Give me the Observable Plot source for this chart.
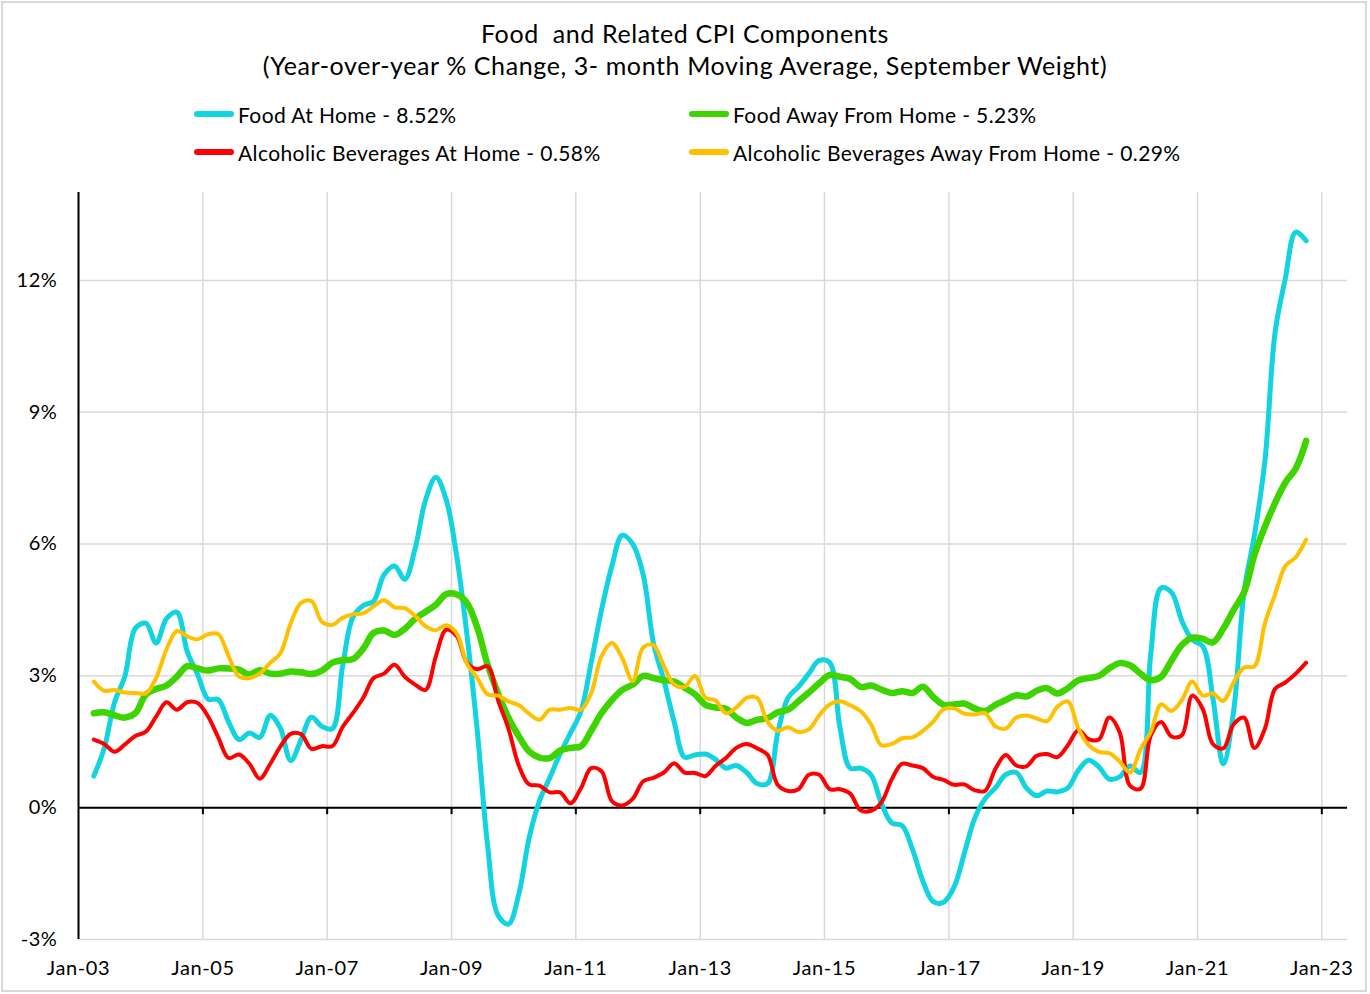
<!DOCTYPE html>
<html><head><meta charset="utf-8">
<script src="https://cdn.jsdelivr.net/npm/d3@7"></script>
<script src="https://cdn.jsdelivr.net/npm/@observablehq/plot@0.6"></script>
<style>
body{margin:0;background:#fff;font-family:Lato,"Open Sans",sans-serif;color:#000}
#wrap{position:relative;width:1370px;height:994px;overflow:hidden}
#frame{position:absolute;left:1px;top:1px;width:1366px;height:991px;border:2px solid #d9d9d9;box-sizing:border-box;pointer-events:none}
#title{position:absolute;top:17px;left:0;width:1370px;text-align:center;font-size:25px;line-height:32px;letter-spacing:0.6px}
.leg{position:absolute;height:30px;font-size:21px;letter-spacing:0.4px;display:flex;align-items:center;white-space:nowrap}
.leg svg{margin-right:3px}
#chart{position:absolute;left:0;top:0}
#chart svg text{letter-spacing:0.6px}
</style></head>
<body>
<div id="wrap">
  <div id="chart"></div>
  <div id="title">Food&nbsp; and Related CPI Components<br>(Year-over-year % Change, 3- month Moving Average, September Weight)</div>
  <div id="legend"></div>
  <div id="frame"></div>
</div>
<script>
// Bi-monthly observations, Apr 2003 .. Oct 2022 (Feb/Apr/Jun/Aug/Oct/Dec)
const foodAtHome = [
  0.72, 1.35, 2.4, 3.0, 4.08,
  4.2, 3.75, 4.3, 4.45, 3.55, 3.03,
  2.47, 2.46, 1.95, 1.55, 1.70, 1.60,
  2.1, 1.81, 1.07, 1.55, 2.06, 1.85,
  1.8, 3.2, 4.33, 4.6, 4.7, 5.3,
  5.5, 5.2, 5.9, 7.0, 7.52, 7.0,
  5.7, 3.95, 1.75, -0.87, -2.45, -2.65,
  -1.95, -0.7, 0.15, 0.68, 1.23, 1.7,
  2.2, 3.3, 4.5, 5.5, 6.2, 6.0,
  5.3, 3.75, 2.9, 1.95, 1.15, 1.2,
  1.22, 1.1, 0.9, 0.96, 0.8, 0.55,
  0.55, 1.7, 2.5, 2.75, 3.05, 3.35,
  3.3, 1.85, 0.9, 0.9, 0.75, 0.1,
  -0.35, -0.41, -0.95, -1.67, -2.14, -2.15,
  -1.8, -1.05, -0.25, 0.2, 0.45, 0.75,
  0.8, 0.45, 0.27, 0.38, 0.36, 0.45,
  0.85, 1.08, 0.93, 0.65, 0.7, 0.95,
  0.8, 3.5, 5.0, 4.9, 4.25, 3.82,
  3.67, 2.5, 1.0, 2.2, 4.9, 6.2,
  7.9, 10.8, 12.05, 13.1, 12.9
];
const foodAwayFromHome = [
  2.15, 2.17, 2.1, 2.05, 2.15,
  2.58, 2.7, 2.78, 2.98, 3.22, 3.17,
  3.12, 3.17, 3.17, 3.14, 3.03, 3.13,
  3.05, 3.05, 3.1, 3.08, 3.04, 3.12,
  3.3, 3.36, 3.38, 3.62, 3.98, 4.03,
  3.93, 4.07, 4.3, 4.46, 4.62, 4.86,
  4.85, 4.66, 4.1, 3.25, 2.6, 2.05,
  1.62, 1.28, 1.14, 1.13, 1.3, 1.36,
  1.4, 1.75, 2.15, 2.45, 2.68, 2.8,
  3.0, 2.95, 2.9, 2.87, 2.73, 2.58,
  2.34, 2.28, 2.25, 2.05, 1.93, 2.0,
  2.04, 2.17, 2.23, 2.42, 2.62, 2.83,
  3.02, 2.98, 2.93, 2.75, 2.78, 2.69,
  2.61, 2.65, 2.61, 2.75, 2.52, 2.34,
  2.35, 2.37, 2.26, 2.2, 2.34, 2.45,
  2.56, 2.53, 2.66, 2.72, 2.6, 2.72,
  2.9, 2.95, 3.0, 3.17, 3.29, 3.24,
  3.05, 2.9, 2.98, 3.35, 3.7, 3.87,
  3.84, 3.76, 4.07, 4.5, 4.9, 5.75,
  6.4, 6.93, 7.4, 7.72, 8.35
];
const alcoholAtHome = [
  1.55, 1.45, 1.27, 1.44, 1.63,
  1.73, 2.07, 2.4, 2.23, 2.4, 2.38,
  2.07, 1.6, 1.13, 1.21, 1.0, 0.66,
  1.0, 1.39, 1.68, 1.67, 1.34, 1.4,
  1.4, 1.83, 2.15, 2.5, 2.95, 3.05,
  3.25, 2.98, 2.8, 2.68, 3.45, 4.05,
  3.9, 3.3, 3.15, 3.22, 2.45, 1.8,
  0.95, 0.53, 0.5, 0.35, 0.35, 0.1,
  0.45, 0.9, 0.83, 0.15, 0.05, 0.2,
  0.6, 0.68, 0.8, 1.01, 0.8, 0.79,
  0.72, 0.95, 1.13, 1.36, 1.45, 1.35,
  1.2, 0.52, 0.38, 0.42, 0.75, 0.75,
  0.42, 0.42, 0.32, -0.06, -0.07, 0.12,
  0.65, 1.0, 0.96, 0.9, 0.7, 0.63,
  0.52, 0.53, 0.4, 0.38, 0.88, 1.2,
  0.96, 0.94, 1.18, 1.22, 1.15, 1.42,
  1.76, 1.56, 1.55, 2.05, 1.72, 0.5,
  0.43, 1.64, 1.95, 1.62, 1.65, 2.55,
  2.24, 1.45, 1.35, 1.9, 2.05, 1.36,
  1.8, 2.7, 2.85, 3.05, 3.3
];
const alcoholAwayFromHome = [
  2.87, 2.66, 2.68, 2.62, 2.61,
  2.6, 2.95, 3.6, 4.02, 3.9, 3.83,
  3.95, 3.95, 3.45, 2.98, 2.95, 3.05,
  3.3, 3.51, 4.2, 4.66, 4.7, 4.23,
  4.16, 4.32, 4.4, 4.42, 4.58, 4.72,
  4.56, 4.54, 4.36, 4.13, 4.04, 4.15,
  3.96, 3.28, 2.95, 2.58, 2.55, 2.42,
  2.33, 2.14, 2.0, 2.23, 2.23, 2.27,
  2.23, 2.6, 3.45, 3.75, 3.4, 2.88,
  3.65, 3.7, 3.23, 2.8, 2.75, 3.0,
  2.5, 2.44, 2.15, 2.28, 2.5, 2.5,
  1.95, 1.75, 1.83, 1.72, 1.78, 2.1,
  2.35, 2.42, 2.33, 2.2, 1.9, 1.42,
  1.45, 1.58, 1.6, 1.75, 1.96, 2.24,
  2.26, 2.14, 2.12, 2.15, 1.85, 1.8,
  2.05, 2.1, 2.03, 1.97, 2.3, 2.42,
  1.8, 1.43, 1.27, 1.24, 1.05, 0.8,
  1.33, 1.72, 2.35, 2.2, 2.45, 2.87,
  2.55, 2.6, 2.43, 2.85, 3.19, 3.22,
  4.2, 4.85, 5.5, 5.7, 6.1
];
const seriesNames = [
  "Food At Home - 8.52%",
  "Food Away From Home - 5.23%",
  "Alcoholic Beverages At Home - 0.58%",
  "Alcoholic Beverages Away From Home - 0.29%"
];
const seriesColors = ["#12d3e0", "#3dd400", "#ff0000", "#ffc000"];
const seriesWidths = [5, 6.5, 4, 4];
const yTicks = [-3, 0, 3, 6, 9, 12];
const xTickYears = [2003, 2005, 2007, 2009, 2011, 2013, 2015, 2017, 2019, 2021, 2023];

const dates = d3.utcMonth.range(new Date(Date.UTC(2003, 3, 1)), new Date(Date.UTC(2022, 10, 1)), 2);
const allValues = [foodAtHome, foodAwayFromHome, alcoholAtHome, alcoholAwayFromHome];
const tables = allValues.map((vals, k) => vals.map((v, i) => ({date: dates[i], value: v, series: seriesNames[k]})));
const xTicks = xTickYears.map(y => new Date(Date.UTC(y, 0, 1)));
const x0 = new Date(Date.UTC(2003, 0, 1));
const x1 = new Date(Date.UTC(2023, 5, 1));

const chart = Plot.plot({
  width: 1370,
  height: 994,
  marginLeft: 78,
  marginRight: 23,
  marginTop: 192,
  marginBottom: 55,
  style: {fontFamily: "Lato, 'Open Sans', sans-serif", fontSize: "20px", color: "#000", background: "transparent"},
  x: {type: "utc", domain: [x0, x1]},
  y: {domain: [-3, 14]},
  marks: [
    Plot.gridX(xTicks, {stroke: "#d9d9d9", strokeOpacity: 1, strokeWidth: 1.5}),
    Plot.gridY(yTicks, {stroke: "#d9d9d9", strokeOpacity: 1, strokeWidth: 1.5}),
    Plot.axisY(yTicks, {tickSize: 0, tickPadding: 21, tickFormat: d => d + "%", label: null, fontSize: 20, fill: "#000"}),
    Plot.axisX(xTicks, {tickSize: 0, tickPadding: 21, tickFormat: d => "Jan-" + String(d.getUTCFullYear()).slice(2), label: null, fontSize: 20, fill: "#000"}),
    Plot.ruleX([x0], {stroke: "#000", strokeWidth: 2}),
    Plot.ruleY([0], {stroke: "#000", strokeWidth: 2}),
    Plot.ruleX(xTicks.slice(1), {x: d => d, y1: 0, y2: 0, insetBottom: -7, stroke: "#000", strokeWidth: 2}),
    ...tables.map((t, k) => Plot.line(t, {x: "date", y: "value", stroke: seriesColors[k], strokeWidth: seriesWidths[k], curve: "catmull-rom", strokeLinejoin: "round", strokeLinecap: "round"}))
  ]
});
document.getElementById("chart").appendChild(chart);

// Legend (two columns, two rows)
const legPos = [[193, 99], [688, 99], [193, 137], [688, 137]];
const legend = document.getElementById("legend");
seriesNames.forEach((name, k) => {
  const div = document.createElement("div");
  div.className = "leg";
  div.style.left = legPos[k][0] + "px";
  div.style.top = legPos[k][1] + "px";
  div.innerHTML = `<svg width="42" height="10"><line x1="4" y1="5" x2="38" y2="5" stroke="${seriesColors[k]}" stroke-width="6" stroke-linecap="round"/></svg><span>${name}</span>`;
  legend.appendChild(div);
});
</script>
</body></html>
